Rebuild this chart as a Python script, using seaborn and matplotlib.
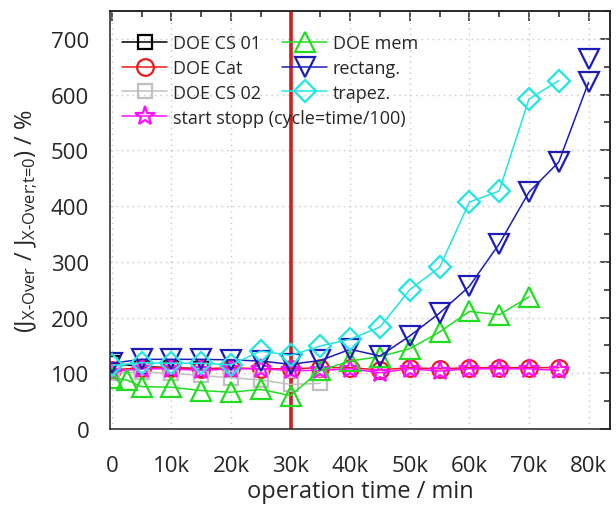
import numpy as np
import pandas as pd
import matplotlib
matplotlib.use("Agg")
import matplotlib.pyplot as plt
import seaborn as sns
from matplotlib.ticker import MultipleLocator

# ---------------- data ----------------
t_cs01 = [0, 5000, 10000, 15000]
v_cs01 = [118, 112, 110, 108]

t_cat = [0, 5000, 10000, 15000, 20000, 25000, 30000, 35000, 40000, 45000,
         50000, 55000, 60000, 65000, 70000, 75000]
v_cat = [106, 110, 110, 108, 110, 108, 108, 110, 110, 106, 110, 108, 110, 110, 110, 110]

t_cs02 = [0, 5000, 10000, 15000, 20000, 25000, 30000, 35000]
v_cs02 = [100, 102, 100, 96, 92, 88, 80, 82]

t_ss = [0, 5000, 10000, 15000, 20000, 25000, 30000, 35000, 40000, 45000,
        50000, 55000, 60000, 65000, 70000, 75000]
v_ss = [103, 108, 108, 105, 108, 108, 105, 105, 108, 101, 108, 104, 108, 108, 108, 105]

t_mem = [0, 2500, 5000, 10000, 15000, 20000, 25000, 30000, 35000, 40000,
         45000, 50000, 55000, 60000, 65000, 70000]
v_mem = [92, 88, 76, 75, 69, 66, 71, 60, 105, 122, 130, 144, 174, 211, 205, 237]

t_rect = [0, 5000, 10000, 15000, 20000, 25000, 30000, 35000, 40000, 45000,
          50000, 55000, 60000, 65000, 70000, 75000, 80000]
v_rect = [118, 125, 125, 125, 124, 122, 116, 123, 143, 131, 167, 208, 256, 332, 425, 479, 622]
t_rect_extra = [80000]
v_rect_extra = [664]

t_trap = [0, 5000, 10000, 15000, 20000, 25000, 30000, 35000, 40000, 45000,
          50000, 55000, 60000, 65000, 70000, 75000]
v_trap = [114, 119, 118, 118, 115, 140, 132, 149, 161, 183, 250, 290, 407, 427, 592, 625]

x_ticks = [0, 10000, 20000, 30000, 40000, 50000, 60000, 70000, 80000]
x_tick_labels = ["0", "10k", "20k", "30k", "40k", "50k", "60k", "70k", "80k"]
marker_line_x = 30000

# ---------------- style ----------------
sns.set_style("white")
plt.rcParams["font.family"] = ["Open Sans", "DejaVu Sans"]
plt.rcParams["mathtext.fontset"] = "custom"
plt.rcParams["mathtext.rm"] = "Open Sans"
plt.rcParams["mathtext.it"] = "Open Sans:italic"
plt.rcParams["mathtext.bf"] = "Open Sans:bold"

fig = plt.figure(figsize=(6.16, 5.06), dpi=100)
ax = fig.add_axes([110 / 616, 1 - 430 / 506, 500 / 616, 418 / 506])

series = [
    ("DOE CS 01", t_cs01, v_cs01, "#000000", "s", 10),
    ("DOE Cat", t_cat, v_cat, "#f01818", "o", 12),
    ("DOE CS 02", t_cs02, v_cs02, "#c0c0c0", "s", 10),
    ("start stopp (cycle=time/100)", t_ss, v_ss, "#ff10ff", "*", 15),
    ("DOE mem", t_mem, v_mem, "#22dd22", "^", 14),
    ("rectang.", t_rect, v_rect, "#1c1cb8", "v", 14),
    ("trapez.", t_trap, v_trap, "#22e6e6", "D", 11),
]

ax.axvline(marker_line_x, color="#cc1f1f", lw=2.6, zorder=1.5)

handles = []
for name, tx, vy, col, mk, ms in series:
    df = pd.DataFrame({"t": tx, "v": vy})
    sns.lineplot(data=df, x="t", y="v", ax=ax, color=col, lw=1.1,
                 marker=mk, markersize=ms, markerfacecolor="none",
                 markeredgecolor=col, markeredgewidth=1.6,
                 estimator=None, sort=False, label=name)
    handles.append(ax.lines[-1])

dfx = pd.DataFrame({"t": t_rect_extra, "v": v_rect_extra})
sns.lineplot(data=dfx, x="t", y="v", ax=ax, color="#1c1cb8", lw=0,
             marker="v", markersize=14, markerfacecolor="none",
             markeredgecolor="#1c1cb8", markeredgewidth=1.6,
             estimator=None, legend=False)

ax.set_xlim(-300, 83600)
ax.set_ylim(0, 750)

ax.xaxis.set_minor_locator(MultipleLocator(5000))
ax.yaxis.set_major_locator(MultipleLocator(100))
ax.yaxis.set_minor_locator(MultipleLocator(50))
ax.set_xticks(x_ticks)
ax.set_xticklabels(x_tick_labels)

tick_col = "#222222"
ax.tick_params(which="major", direction="out", length=9, width=1.1, labelsize=16,
               color=tick_col, pad=6)
ax.tick_params(which="minor", direction="out", length=4.5, width=1.1, color=tick_col)
ax.tick_params(axis="x", which="major", pad=10)

sx = ax.secondary_xaxis("top")
sx.xaxis.set_major_locator(MultipleLocator(10000))
sx.xaxis.set_minor_locator(MultipleLocator(5000))
sx.tick_params(which="major", direction="in", length=7, width=1.1, labeltop=False, color=tick_col)
sx.tick_params(which="minor", direction="in", length=4, width=1.1, color=tick_col)
sy = ax.secondary_yaxis("right")
sy.yaxis.set_major_locator(MultipleLocator(100))
sy.yaxis.set_minor_locator(MultipleLocator(50))
sy.tick_params(which="major", direction="in", length=7, width=1.1, labelright=False, color=tick_col)
sy.tick_params(which="minor", direction="in", length=4, width=1.1, color=tick_col)
for s in (sx, sy):
    for sp in s.spines.values():
        sp.set_linewidth(1.1)
        sp.set_color(tick_col)

for sp in ax.spines.values():
    sp.set_linewidth(1.1)
    sp.set_color(tick_col)

ax.grid(True, which="major", color="#c8c8c8", linestyle=(0, (1, 3)), linewidth=1.0)
ax.set_axisbelow(True)

ax.set_xlabel("operation time / min", fontsize=17, labelpad=2)
ax.set_ylabel(r"(J$_\mathregular{\text{X-Over}}$ / J$_\mathregular{\text{X-Over;t=0}}$) / %",
              fontsize=17, labelpad=8)

leg_kw = dict(loc="upper left", frameon=False, fontsize=13,
              handlelength=2.5, handletextpad=0.3, labelspacing=0.38,
              borderpad=0.0, borderaxespad=0.0)
leg1 = ax.legend(handles=handles[:4], labels=[s[0] for s in series[:4]],
                 bbox_to_anchor=(0.024, 0.945), **leg_kw)
ax.add_artist(leg1)
ax.legend(handles=handles[4:], labels=[s[0] for s in series[4:]],
          bbox_to_anchor=(0.344, 0.945), **leg_kw)

fig.savefig("out.png", dpi=100)
